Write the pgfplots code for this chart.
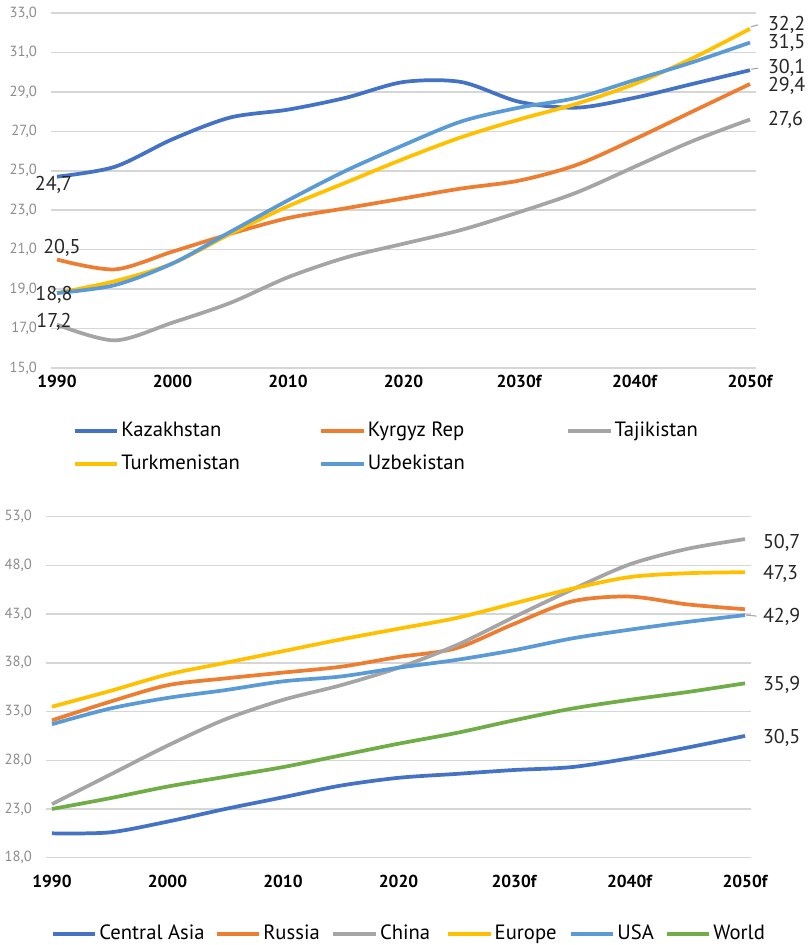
\documentclass[border=0pt]{standalone}
\usepackage{fontspec}
\setmainfont{PT Sans}
\usepackage{pgfplots}
\pgfplotsset{compat=1.18}
\definecolor{cBlue}{HTML}{4472C4}
\definecolor{cOrange}{HTML}{ED7D31}
\definecolor{cGray}{HTML}{A5A5A5}
\definecolor{cGold}{HTML}{FFC000}
\definecolor{cLight}{HTML}{5B9BD5}
\definecolor{cGreen}{HTML}{70AD47}
\definecolor{tickgray}{HTML}{8C8C8C}
\definecolor{labtxt}{HTML}{262626}

\pgfplotstableread{
year kaz kyr taj tur uzb
1990 24.7 20.5 17.2 18.8 18.8
1995 25.2 20.0 16.4 19.4 19.2
2000 26.6 20.9 17.3 20.3 20.3
2005 27.7 21.8 18.3 21.8 21.9
2010 28.1 22.6 19.6 23.2 23.5
2015 28.7 23.1 20.6 24.4 25.0
2020 29.5 23.6 21.3 25.6 26.3
2025 29.5 24.1 22.0 26.7 27.5
2030 28.5 24.5 22.9 27.6 28.2
2035 28.2 25.3 23.9 28.4 28.7
2040 28.7 26.6 25.2 29.4 29.6
2045 29.4 28.0 26.5 30.7 30.5
2050 30.1 29.4 27.6 32.2 31.5
}\topdata

\pgfplotstableread{
year ca rus chn eur usa wld
1990 20.5 32.1 23.5 33.5 31.7 23.0
1995 20.6 34.0 26.5 35.1 33.3 24.1
2000 21.7 35.7 29.5 36.8 34.4 25.3
2005 23.0 36.4 32.2 38.0 35.2 26.3
2010 24.2 37.0 34.2 39.2 36.1 27.3
2015 25.4 37.6 35.7 40.4 36.6 28.5
2020 26.2 38.6 37.5 41.5 37.5 29.7
2025 26.6 39.5 39.8 42.6 38.3 30.8
2030 27.0 42.0 42.7 44.1 39.3 32.1
2035 27.3 44.3 45.5 45.6 40.5 33.3
2040 28.2 44.8 48.1 46.8 41.4 34.2
2045 29.3 44.0 49.7 47.2 42.2 35.0
2050 30.5 43.5 50.7 47.3 42.9 35.9
}\botdata

\tikzset{dl/.style={font=\fontsize{15}{18}\selectfont, text=labtxt, inner sep=0pt}}

\pgfplotsset{
  common/.style={
    scale only axis,
    width=528.45pt,
    clip=false,
    axis line style={draw=none},
    major tick length=0pt,
    ymajorgrids,
    grid style={line width=1.1pt, color=black!16},
    xmin=1989.5, xmax=2050.5,
    xtick={1990,2000,2010,2020,2030,2040,2050},
    xticklabels={1990,2000,2010,2020,2030f,2040f,2050f},
    xticklabel style={anchor=north, inner sep=0pt, font=\fontsize{13}{15}\selectfont\bfseries, text=black},
    yticklabel style={anchor=east, inner sep=0pt, xshift=-10.5pt, font=\fontsize{11}{13}\selectfont, text=tickgray},
    /pgf/number format/fixed,
    /pgf/number format/fixed zerofill,
    /pgf/number format/precision=1,
    /pgf/number format/use comma,
    /pgf/number format/assume math mode=true,
    legend cell align=left,
    legend image code/.code={\draw[##1, line width=3pt] (0pt,0pt) -- (32pt,0pt);},
    every axis plot/.append style={line width=2.8pt, smooth, no marks},
  },
}

\begin{document}
\begin{tikzpicture}
\useasboundingbox (0,0) rectangle (606pt,708.75pt);

% ---------------- top chart ----------------
\begin{axis}[common,
  at={(38.4pt,432.75pt)}, anchor=south west,
  height=266.25pt,
  ymin=15, ymax=33, ytick={15,17,...,33},
  xticklabel style={yshift=-5pt},
  legend columns=3,
  legend style={at={(axis description cs:0.030,-0.145)}, anchor=north west, draw=none, fill=none, inner sep=0pt,
    font=\fontsize{15.5}{17}\selectfont, nodes={inner sep=1.5pt, text height=11pt, text depth=3pt}, row sep=8pt},
]
\addplot[color=cBlue] table[x=year,y=kaz]{\topdata};
\addlegendentry{\makebox[147pt][l]{Kazakhstan}}
\addplot[color=cOrange] table[x=year,y=kyr]{\topdata};
\addlegendentry{\makebox[147pt][l]{Kyrgyz Rep}}
\addplot[color=cGray] table[x=year,y=taj]{\topdata};
\addlegendentry{Tajikistan}
\addplot[color=cGold] table[x=year,y=tur]{\topdata};
\addlegendentry{\makebox[147pt][l]{Turkmenistan}}
\addplot[color=cLight] table[x=year,y=uzb]{\topdata};
\addlegendentry{\makebox[147pt][l]{Uzbekistan}}

\draw[cGray, line width=0.8pt] (axis cs:2050.1,32.3) -- (axis cs:2050.7,32.4);
\draw[cGray, line width=0.8pt] (axis cs:2050.1,30.15) -- (axis cs:2050.7,30.2);
\node[dl, anchor=west, xshift=9pt] at (axis cs:2050.5,32.42) {32,2};
\node[dl, anchor=west, xshift=9pt] at (axis cs:2050.5,31.48) {31,5};
\node[dl, anchor=west, xshift=9pt] at (axis cs:2050.5,30.22) {30,1};
\node[dl, anchor=west, xshift=9pt] at (axis cs:2050.5,29.30) {29,4};
\node[dl, anchor=west, xshift=9pt] at (axis cs:2050.5,27.57) {27,6};
\node[dl] at (axis cs:1989.70,24.28) {24,7};
\node[dl] at (axis cs:1990.43,21.08) {20,5};
\node[dl] at (axis cs:1989.74,18.70) {18,8};
\node[dl] at (axis cs:1989.74,17.33) {17,2};
\end{axis}

% ---------------- bottom chart ----------------
\begin{axis}[common,
  at={(34.65pt,65.475pt)}, anchor=south west,
  height=255.75pt,
  ymin=18, ymax=53, ytick={18,23,...,53},
  xticklabel style={yshift=-12.5pt},
  legend columns=6,
  legend style={at={(axis description cs:0.006,-0.190)}, anchor=north west, draw=none, fill=none, inner sep=0pt,
    font=\fontsize{15.5}{17}\selectfont, nodes={inner sep=1.5pt, text height=11pt, text depth=3pt},
    /tikz/every even column/.append style={column sep=0pt}},
]
\addplot[color=cBlue] table[x=year,y=ca]{\botdata};
\addlegendentry{\makebox[85pt][l]{Central Asia}}
\addplot[color=cOrange] table[x=year,y=rus]{\botdata};
\addlegendentry{\makebox[49.5pt][l]{Russia}}
\addplot[color=cGray] table[x=year,y=chn]{\botdata};
\addlegendentry{\makebox[48pt][l]{China}}
\addplot[color=cGold] table[x=year,y=eur]{\botdata};
\addlegendentry{\makebox[54pt][l]{Europe}}
\addplot[color=cLight] table[x=year,y=usa]{\botdata};
\addlegendentry{\makebox[34pt][l]{USA}}
\addplot[color=cGreen] table[x=year,y=wld]{\botdata};
\addlegendentry{World}

\draw[cGray, line width=0.8pt] (axis cs:2050.1,42.9) -- (axis cs:2051.0,42.8);
\node[dl, anchor=west, xshift=9pt] at (axis cs:2050.5,50.3) {50,7};
\node[dl, anchor=west, xshift=9pt] at (axis cs:2050.5,47.1) {47,3};
\node[dl, anchor=west, xshift=9pt] at (axis cs:2050.5,42.73) {42,9};
\node[dl, anchor=west, xshift=9pt] at (axis cs:2050.5,35.72) {35,9};
\node[dl, anchor=west, xshift=9pt] at (axis cs:2050.5,30.28) {30,5};
\end{axis}
\end{tikzpicture}
\end{document}
